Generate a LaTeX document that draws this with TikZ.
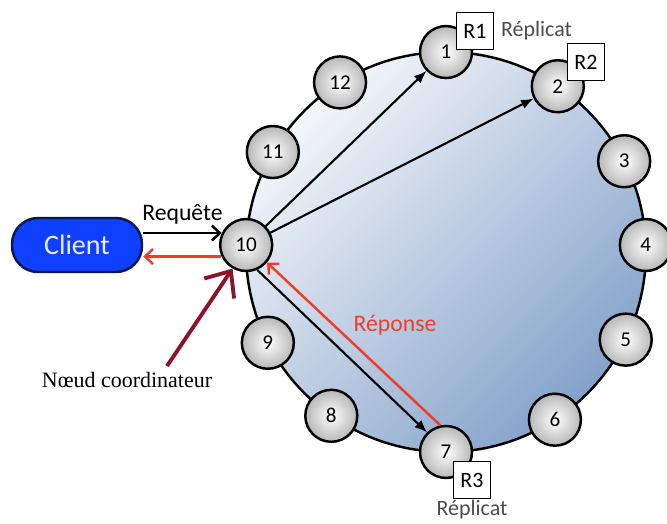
\documentclass[tikz,border=0pt]{standalone}
\usepackage{fontspec}
\setmainfont{Carlito}
\newfontfamily\notefont{Liberation Serif}
\usepackage{tikz}
\usetikzlibrary{shapes,arrows.meta,positioning}
\definecolor{clientblue}{RGB}{16,64,255}
\definecolor{clientedge}{RGB}{10,25,80}
\definecolor{reply}{RGB}{240,60,40}
\definecolor{coordred}{RGB}{140,20,40}
\definecolor{ringlight}{RGB}{244,246,250}
\definecolor{ringdark}{RGB}{132,162,202}
\tikzstyle{ring} = [circle, draw, line width=1.4pt, minimum size=1.04cm, inner sep=0pt, inner color=white, outer color=black!28, font=\fontsize{12}{14}\selectfont]
\tikzstyle{client} = [rectangle, rounded corners=0.52cm, draw=clientedge, fill=clientblue, text=white!92!blue, line width=1.4pt, minimum width=2.6cm, minimum height=1.08cm, font=\fontsize{16}{18}\selectfont]
\tikzstyle{rbox} = [rectangle, draw, fill=white, line width=0.6pt, minimum size=0.74cm, inner sep=0pt, font=\fontsize{12.5}{14}\selectfont]
\tikzstyle{replica} = [text=black!70, inner sep=1pt, font=\fontsize{12.5}{14}\selectfont]
\tikzstyle{line} = [draw, line width=1.2pt, -{Latex[length=0.25cm, width=0.2cm]}]
\tikzstyle{msg} = [draw, line width=1.4pt, -{Straight Barb[length=0.16cm, width=0.3cm]}]

\begin{document}
\begin{tikzpicture}[x=0.02cm, y=-0.02cm]
			\useasboundingbox (0,0) rectangle (667,524);
			\coordinate (ctr) at (446,252);
			\path [draw, line width=1.4pt, top color=ringlight, bottom color=ringdark, shading angle=45] (ctr) circle [radius=4cm];
			
			% the twelve nodes of the ring
			\foreach \i/\a in {1/90, 2/56, 3/27, 4/2, 5/-26, 6/-57, 7/-90, 8/-125, 9/-153, 10/178, 11/150, 12/122}
				\node [ring] (n\i) at ([shift={(\a:4cm)}]ctr) {\i};
			
			\node [client] (client) at (77,245) {Client};
			
			\path [line] (n10) -- (n1);
			\path [line] (n10) -- (n2);
			\path [line] (n10.-66) -- (n7.134);
			\path [msg, draw=reply] (n7.102) -- (n10.-40);
			\path [msg] (client.east |- n10.154) -- node [above=1pt, font=\fontsize{13.5}{15}\selectfont] (req) {Requête} (n10.154);
			\path [msg, draw=reply] (n10.-155) -- (client.east |- n10.-155);
			\node [text=reply, font=\fontsize{13.5}{15}\selectfont] (resp) at (395,325) {Réponse};
			
			% replicas
			\node [rbox] (r1) at (475,31) {R1};
			\node [rbox] (r2) at (586,62) {R2};
			\node [rbox] (r3) at (472,480) {R3};
			\node [replica, right=0.1cm of r1] (rep1) {Réplicat};
			\node [replica, inner sep=0pt, below=0.02cm of r3] (rep3) {Réplicat};
			
			\node [font=\notefont\fontsize{12.5}{14}\selectfont] (coord) at (127,380) {Nœud coordinateur};
			\path [draw, coordred, line width=2.2pt, -{Straight Barb[length=0.42cm, width=0.72cm]}] ([xshift=0.8cm]coord.north) -- (n10.-120);
		\end{tikzpicture}
\end{document}
